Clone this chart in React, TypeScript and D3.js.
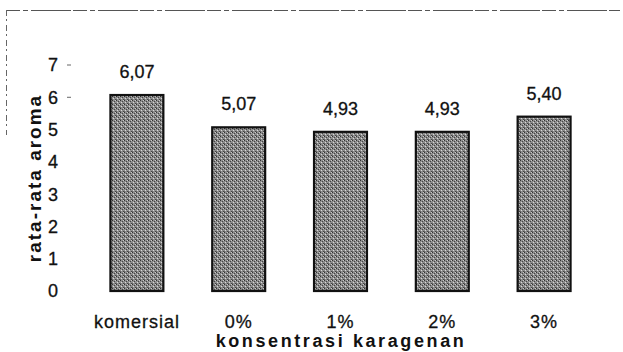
import React from "react";
import * as d3 from "d3";

const categories = ["komersial", "0%", "1%", "2%", "3%"];
const values = [6.07, 5.07, 4.93, 4.93, 5.4];
const valueLabels = ["6,07", "5,07", "4,93", "4,93", "5,40"];
const yTicks = [0, 1, 2, 3, 4, 5, 6, 7];
const yTickMarks = [7, 6];

const W = 623;
const H = 352;

export default function App() {
  const x = d3.scaleBand<string>().domain(categories).range([86, 595]).paddingInner(0.48).paddingOuter(0.24);
  const y = d3.scaleLinear().domain([0, 7]).range([291, 65]);
  const font = "Arimo, 'Liberation Sans', Arial, sans-serif";
  const ink = "#111";
  return (
    <svg width={W} height={H} style={{ position: "absolute", left: 0, top: 0, background: "#fff" }} fontFamily={font}>
      <defs>
        <pattern id="grain" width="4" height="4" patternUnits="userSpaceOnUse">
          <rect width="4" height="4" fill="#8e8e8e" />
          <rect x="0" y="0" width="1" height="1" fill="#333" />
          <rect x="2" y="1" width="1" height="1" fill="#444" />
          <rect x="1" y="2" width="1" height="1" fill="#d8d8d8" />
          <rect x="3" y="3" width="1" height="1" fill="#444" />
          <rect x="3" y="0" width="1" height="1" fill="#c8c8c8" />
          <rect x="0" y="3" width="1" height="1" fill="#666" />
        </pattern>
      </defs>
      {/* scanned frame remnants */}
      <line x1={6} x2={620} y1={10.5} y2={10.5} stroke="#555" strokeWidth={1} strokeDasharray="14 3 5 3 40 2" />
      <line x1={6.5} x2={6.5} y1={10} y2={135} stroke="#666" strokeWidth={1} strokeDasharray="6 3 2 4" />
      {/* y tick labels */}
      {yTicks.map((t) => (
        <text key={t} x={58} y={y(t)} dy="0.36em" textAnchor="end" fontSize={18} fill={ink} stroke={ink} strokeWidth={0.3}>
          {t}
        </text>
      ))}
      {yTickMarks.map((t) => (
        <line key={t} x1={67} x2={71} y1={y(t)} y2={y(t)} stroke="#666" strokeWidth={1} />
      ))}
      {/* bars */}
      {categories.map((c, i) => (
        <g key={c}>
          <rect
            x={x(c)!}
            y={y(values[i])}
            width={x.bandwidth()}
            height={y(0) - y(values[i])}
            fill="url(#grain)"
            stroke={ink}
            strokeWidth={2.2}
          />
          <text x={x(c)! + x.bandwidth() / 2} y={y(values[i]) - 17} textAnchor="middle" fontSize={18} fill={ink} stroke={ink} strokeWidth={0.3}>
            {valueLabels[i]}
          </text>
          <text x={x(c)! + x.bandwidth() / 2} y={328} textAnchor="middle" fontSize={18} letterSpacing={1} fill={ink} stroke={ink} strokeWidth={0.3}>
            {c}
          </text>
        </g>
      ))}
      <text x={341} y={347} textAnchor="middle" fontSize={18} fontWeight="bold" letterSpacing={2.6} fill={ink}>
        konsentrasi karagenan
      </text>
      <text
        transform={`translate(41,${(y(0) + y(7)) / 2}) rotate(-90)`}
        textAnchor="middle"
        fontSize={19}
        fontWeight="bold"
        letterSpacing={2}
        fill={ink}
      >
        rata-rata aroma
      </text>
    </svg>
  );
}
